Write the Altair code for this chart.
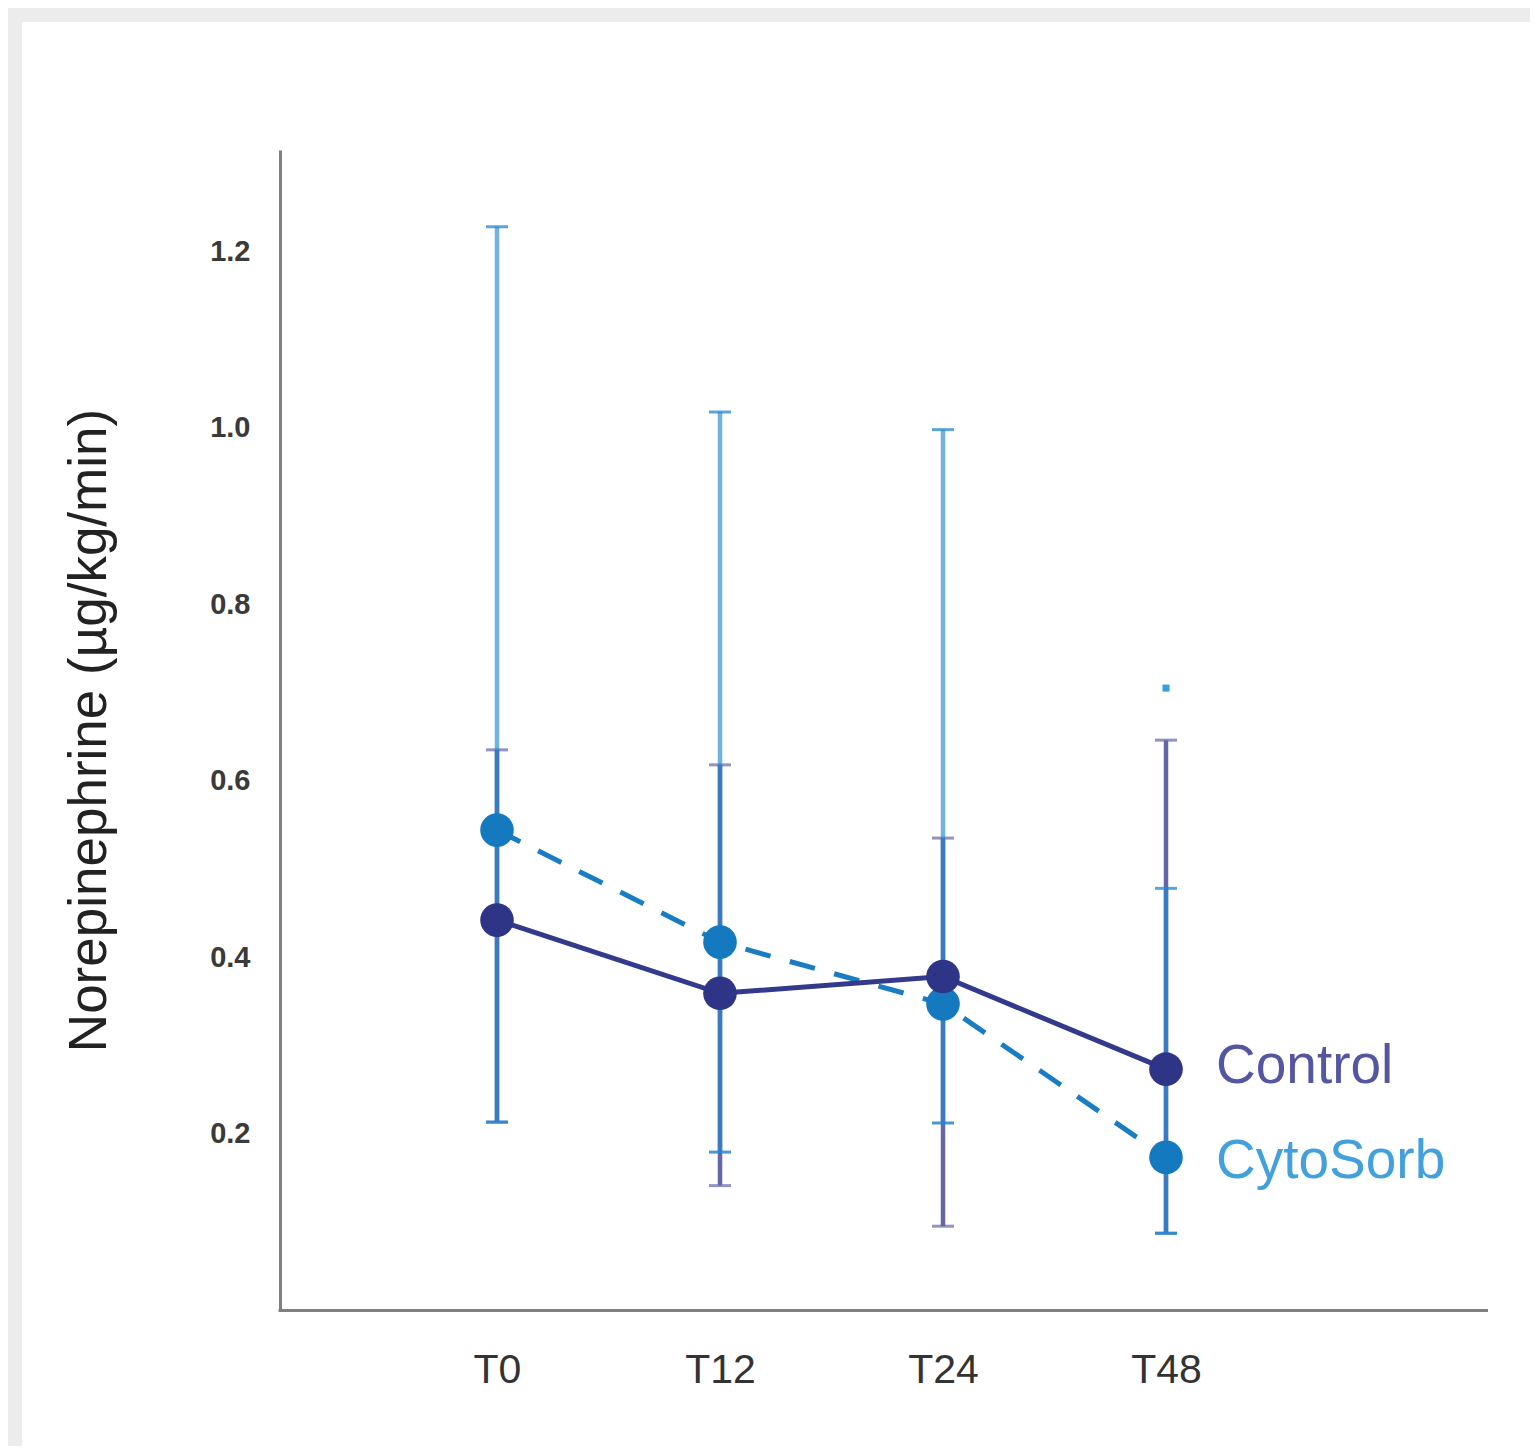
import altair as alt
import pandas as pd

times = ["T0", "T12", "T24", "T48"]
control_mean = [0.442, 0.359, 0.378, 0.273]
control_lo = [0.213, 0.141, 0.095, 0.087]
control_hi = [0.635, 0.618, 0.535, 0.646]
cyto_mean = [0.544, 0.417, 0.347, 0.173]
cyto_lo = [0.213, 0.179, 0.212, 0.087]
cyto_hi = [1.228, 1.018, 0.998, 0.478]
outlier_time = ["T48"]
outlier_value = [0.705]
series_names = ["Control", "CytoSorb"]
y_ticks = [0.2, 0.4, 0.6, 0.8, 1.0, 1.2]

ctrl = pd.DataFrame({"time": times, "mean": control_mean, "lo": control_lo, "hi": control_hi})
cyto = pd.DataFrame({"time": times, "mean": cyto_mean, "lo": cyto_lo, "hi": cyto_hi})
outl = pd.DataFrame({"time": outlier_time, "value": outlier_value})
lab_ctrl = pd.DataFrame({"time": [times[-1]], "value": [control_mean[-1]], "name": [series_names[0]]})
lab_cyto = pd.DataFrame({"time": [times[-1]], "value": [cyto_mean[-1]], "name": [series_names[1]]})

W, H = 1208, 1160
FONT = "Liberation Sans"
AXIS_GREY = "#808080"

xs = alt.Scale(type="point", domain=times, range=[217, 886], padding=0)
ys = alt.Scale(domain=[0, 1.315], nice=False, zero=False)

x_axis = alt.Axis(title=None, labelAngle=0, ticks=False, tickSize=0, labelPadding=40,
                  labelFontSize=41, labelColor="#333333", labelFont=FONT,
                  domain=False, grid=False, zindex=1)
y_axis = alt.Axis(title="Norepinephrine (µg/kg/min)", values=y_ticks, format=".1f",
                  ticks=False, tickSize=0, labelPadding=30, labelFontSize=29,
                  labelFontWeight="bold", labelColor="#3a3a3a", labelFont=FONT,
                  domainColor=AXIS_GREY, domainWidth=3, grid=False, zindex=1,
                  titleFont=FONT, titleFontSize=53, titleFontWeight="normal",
                  titleColor="#222222", titleAngle=270, titleX=-191, titleY=580,
                  titleAlign="center", titleBaseline="middle")


def X():
    return alt.X("time:N", scale=xs, sort=times, axis=x_axis)


def Y(field):
    return alt.Y(field, scale=ys, axis=y_axis)


one = pd.DataFrame({"a": [0]})
bg = alt.Chart(one).mark_rect(color="white").encode(
    x=alt.value(-258), x2=alt.value(W + 60), y=alt.value(-128), y2=alt.value(H + 150)
)
x_line = alt.Chart(one).mark_rule(color=AXIS_GREY, strokeWidth=3).encode(
    x=alt.value(-1.5), x2=alt.value(W), y=alt.value(H + 0.5)
)

ctrl_bar = alt.Chart(ctrl).mark_rule(color="#6366a8", strokeWidth=4.5).encode(
    x=X(), y=Y("lo:Q"), y2="hi:Q")
ctrl_caps_hi = alt.Chart(ctrl).mark_tick(color="#6366a8", size=22, thickness=3, orient="horizontal").encode(
    x=X(), y=Y("hi:Q"))
ctrl_caps_lo = alt.Chart(ctrl).mark_tick(color="#6366a8", size=22, thickness=3, orient="horizontal").encode(
    x=X(), y=Y("lo:Q"))

cyto_bar = alt.Chart(cyto).mark_rule(color="#2387cf", opacity=0.64, strokeWidth=4.5).encode(
    x=X(), y=Y("lo:Q"), y2="hi:Q")
cyto_caps_hi = alt.Chart(cyto).mark_tick(color="#2387cf", opacity=0.75, size=22, thickness=3, orient="horizontal").encode(
    x=X(), y=Y("hi:Q"))
cyto_caps_lo = alt.Chart(cyto).mark_tick(color="#2387cf", opacity=0.85, size=22, thickness=3, orient="horizontal").encode(
    x=X(), y=Y("lo:Q"))

outl_pt = alt.Chart(outl).mark_square(color="#3aa0dc", size=50, opacity=1).encode(
    x=X(), y=Y("value:Q"))

cyto_line = alt.Chart(cyto).mark_line(color="#1a7cc2", strokeWidth=5, strokeDash=[26, 20]).encode(
    x=X(), y=Y("mean:Q"))
ctrl_line = alt.Chart(ctrl).mark_line(color="#333a8c", strokeWidth=5).encode(
    x=X(), y=Y("mean:Q"))

cyto_pts = alt.Chart(cyto).mark_circle(color="#1479bf", size=1130, opacity=1).encode(
    x=X(), y=Y("mean:Q"))
ctrl_pts = alt.Chart(ctrl).mark_circle(color="#2e3486", size=1130, opacity=1).encode(
    x=X(), y=Y("mean:Q"))

txt_ctrl = alt.Chart(lab_ctrl).mark_text(align="left", baseline="middle", dx=50, dy=-3, fontSize=55,
                                         font=FONT, color="#5556a2").encode(
    x=X(), y=Y("value:Q"), text="name:N")
txt_cyto = alt.Chart(lab_cyto).mark_text(align="left", baseline="middle", dx=50, dy=4, fontSize=55,
                                         font=FONT, color="#42a0dc").encode(
    x=X(), y=Y("value:Q"), text="name:N")

chart = alt.layer(
    bg, x_line, ctrl_bar, ctrl_caps_hi, ctrl_caps_lo, cyto_bar, cyto_caps_hi, cyto_caps_lo, outl_pt,
    cyto_line, ctrl_line, cyto_pts, ctrl_pts, txt_ctrl, txt_cyto
).properties(
    width=W, height=H,
    autosize=alt.AutoSizeParams(type="none"),
    padding={"left": 272, "top": 142, "right": 42, "bottom": 136},
    background="#ececec",
).configure_view(stroke=None)

chart.save("out.html", embed_options={"renderer": "svg", "actions": False})
